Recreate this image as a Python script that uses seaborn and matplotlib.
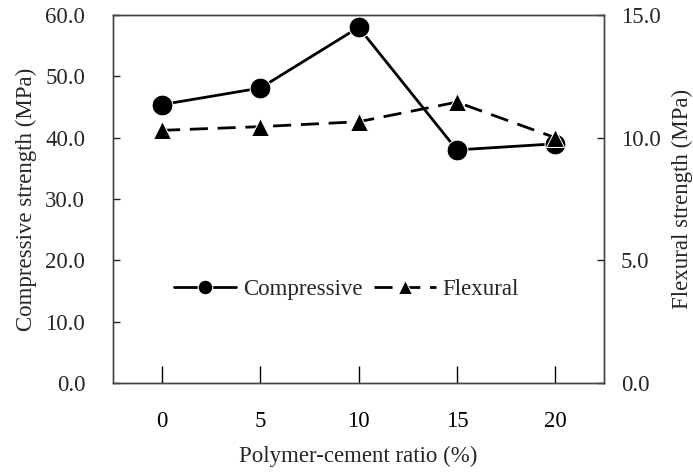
import pandas as pd
import seaborn as sns
import matplotlib.pyplot as plt

ratio = [0, 5, 10, 15, 20]
compressive = [45.4, 48.1, 58.0, 38.0, 39.0]
flexural = [10.3, 10.45, 10.65, 11.45, 10.0]

df = pd.DataFrame({"ratio": ratio, "compressive": compressive, "flexural": flexural})

sns.set_style("ticks")
plt.rcParams["font.family"] = ["Liberation Serif", "DejaVu Serif"]
plt.rcParams["font.size"] = 16.5

fig = plt.figure(figsize=(6.93, 4.72), dpi=100)
ax = fig.add_axes([0.163, 0.189, 0.709, 0.779])
ax2 = ax.twinx()

sns.lineplot(data=df, x="ratio", y="compressive", ax=ax, color="black",
             marker="o", markersize=15, linewidth=2, label="Compressive",
             legend=False)
sns.lineplot(data=df, x="ratio", y="flexural", ax=ax2, color="black",
             marker="^", markersize=13.5, linewidth=2,
             label="Flexural", legend=False)
ax2.lines[0].set_dashes((6.5, 3.5))

ax.set_xlim(-2.5, 22.5)
ax.set_ylim(0, 60)
ax2.set_ylim(0, 15)
ax.set_xticks(ratio)
ax.set_yticks(range(0, 61, 10))
ax2.set_yticks([0, 5, 10, 15])
ax.set_yticklabels([f"{v:.1f}" for v in range(0, 61, 10)])
ax2.set_yticklabels([f"{v:.1f}" for v in [0, 5, 10, 15]])

ax.tick_params(axis="x", direction="in", length=12, width=1, pad=20, colors="black")
ax.tick_params(axis="y", direction="in", length=5, width=1, pad=20)
ax2.tick_params(axis="y", direction="in", length=5, width=1, pad=12)

for a in (ax, ax2):
    for s in a.spines.values():
        s.set_color("#444444")
        s.set_linewidth(1)

ax.set_xlabel("Polymer-cement ratio (%)", labelpad=10)
ax.set_ylabel("Compressive strength (MPa)", labelpad=6)
ax2.set_ylabel("Flexural strength (MPa)", rotation=90, labelpad=8)

h1, l1 = ax.get_legend_handles_labels()
h2, l2 = ax2.get_legend_handles_labels()
ax.legend(h1 + h2, l1 + l2, loc="center", bbox_to_anchor=(0.475, 0.253),
          ncol=2, frameon=False, markerscale=0.7, handlelength=2.7,
          handletextpad=0.3, columnspacing=0.5)

fig.savefig("out.png", dpi=100)
